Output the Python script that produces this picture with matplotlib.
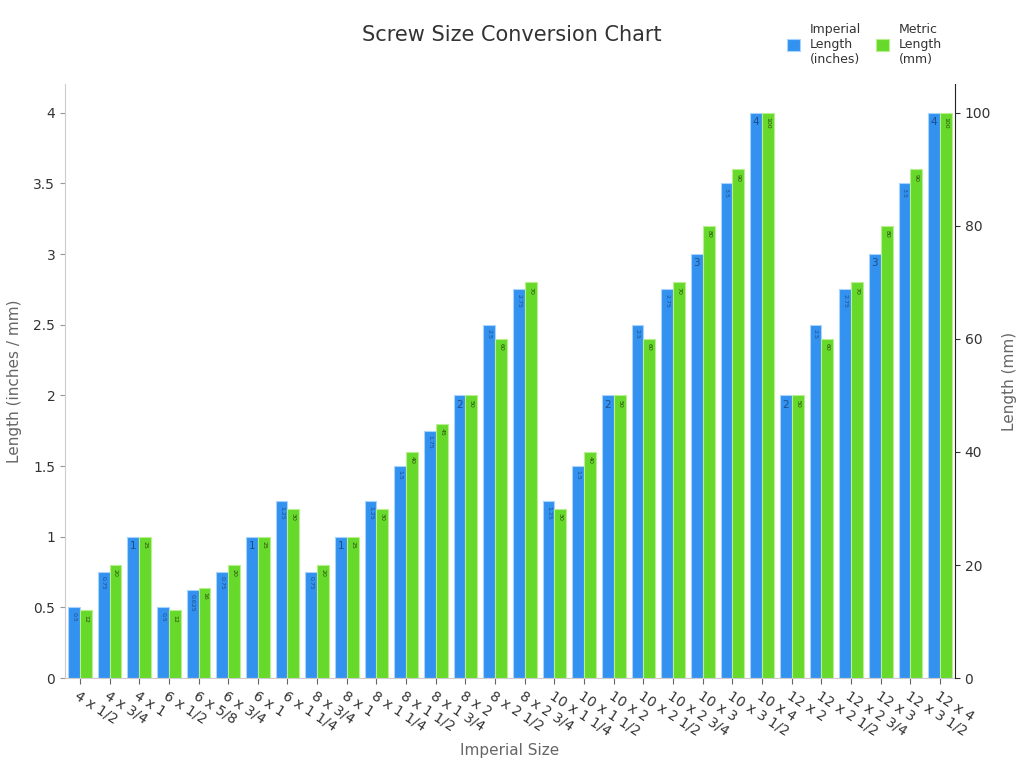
import matplotlib
matplotlib.use("Agg")
import matplotlib.pyplot as plt
import numpy as np

sizes = ["4 x 1/2", "4 x 3/4", "4 x 1", "6 x 1/2", "6 x 5/8", "6 x 3/4", "6 x 1",
         "6 x 1 1/4", "8 x 3/4", "8 x 1", "8 x 1 1/4", "8 x 1 1/2", "8 x 1 3/4",
         "8 x 2", "8 x 2 1/2", "8 x 2 3/4", "10 x 1 1/4", "10 x 1 1/2", "10 x 2",
         "10 x 2 1/2", "10 x 2 3/4", "10 x 3", "10 x 3 1/2", "10 x 4", "12 x 2",
         "12 x 2 1/2", "12 x 2 3/4", "12 x 3", "12 x 3 1/2", "12 x 4"]
imperial = [0.5, 0.75, 1, 0.5, 0.625, 0.75, 1, 1.25, 0.75, 1, 1.25, 1.5, 1.75, 2,
            2.5, 2.75, 1.25, 1.5, 2, 2.5, 2.75, 3, 3.5, 4, 2, 2.5, 2.75, 3, 3.5, 4]
metric = [12, 20, 25, 12, 16, 20, 25, 30, 20, 25, 30, 40, 45, 50, 60, 70, 30, 40,
          50, 60, 70, 80, 90, 100, 50, 60, 70, 80, 90, 100]

blue = "#3391f0"
green = "#67d92b"
gray = "#666666"

fig = plt.figure(figsize=(10.24, 7.68), dpi=100)
ax = fig.add_axes([0.0635, 0.117, 0.869, 0.773])
ax2 = ax.twinx()

x = np.arange(len(sizes))
w = 0.4
b1 = ax.bar(x - w / 2, imperial, w, color=blue, edgecolor="#a9d4ff", linewidth=0.8,
            label="Imperial\nLength\n(inches)")
b2 = ax2.bar(x + w / 2, metric, w, color=green, edgecolor="#b8f08f", linewidth=0.8,
             label="Metric\nLength\n(mm)")


def fmt(v):
    return f"{v:g}"


for rect, v in zip(b1, imperial):
    s = fmt(v)
    cx = rect.get_x() + rect.get_width() / 2
    top = rect.get_height()
    if len(s) == 1:
        ax.text(cx, top - 0.03, s, ha="center", va="top", fontsize=7.5, color="#1d4f8a")
    else:
        ax.text(cx, top - 0.03, s, ha="center", va="top", fontsize=4.5,
                rotation=270, color="#1d4f8a")
for rect, v in zip(b2, metric):
    s = fmt(v)
    cx = rect.get_x() + rect.get_width() / 2
    top = rect.get_height()
    ax2.text(cx, top - 0.75, s, ha="center", va="top", fontsize=4.5,
             rotation=270, color="#2a4a10")

ax.set_xlim(-0.5, len(sizes) - 0.5)
ax.set_ylim(0, 4.2)
ax2.set_ylim(0, 105)
ax.set_yticks([0, 0.5, 1, 1.5, 2, 2.5, 3, 3.5, 4])
ax.set_yticklabels(["0", "0.5", "1", "1.5", "2", "2.5", "3", "3.5", "4"])
ax2.set_yticks([0, 20, 40, 60, 80, 100])

for a in (ax, ax2):
    a.spines["top"].set_visible(False)
ax.spines["left"].set_color("#cccccc")
ax.spines["bottom"].set_color("#cccccc")
ax.spines["right"].set_visible(False)
ax2.spines["left"].set_visible(False)
ax2.spines["bottom"].set_visible(False)
ax2.spines["right"].set_color("#222222")
ax.tick_params(axis="y", color="#999999", labelcolor="#333333", labelsize=10)
ax.tick_params(axis="x", color=gray, length=4)
ax2.tick_params(axis="y", colors="#333333", labelsize=10)

ax.set_xticks(x)
ax.set_xticklabels(sizes, rotation=-33, ha="left", rotation_mode="anchor",
                   fontsize=10, color="#333333")

ax.set_xlabel("Imperial Size", fontsize=11, color=gray, labelpad=3)
ax.set_ylabel("Length (inches / mm)", fontsize=11, color=gray, labelpad=8)
ax2.set_ylabel("Length (mm)", fontsize=11, color=gray, labelpad=8)

fig.suptitle("Screw Size Conversion Chart", x=0.5, y=0.967, fontsize=15, color="#333333")

h1, l1 = ax.get_legend_handles_labels()
h2, l2 = ax2.get_legend_handles_labels()
fig.legend(h1 + h2, l1 + l2, loc="upper left", bbox_to_anchor=(0.758, 0.985), ncol=2,
           frameon=False, fontsize=9, handlelength=1.0, handleheight=1.0,
           columnspacing=1.2, labelcolor="#333333")

fig.savefig("out.png", dpi=100)
